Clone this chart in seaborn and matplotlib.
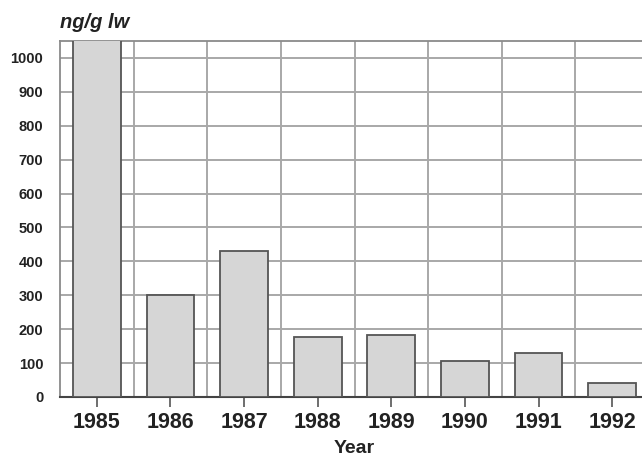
import matplotlib
matplotlib.use("Agg")
import matplotlib.pyplot as plt
from matplotlib.ticker import MultipleLocator, FixedLocator
import seaborn as sns
import pandas as pd

years = ["1985", "1986", "1987", "1988", "1989", "1990", "1991", "1992"]
values = [1060, 300, 430, 176, 182, 106, 129, 41]

df = pd.DataFrame({"Year": years, "value": values})

sns.set_style("white")
plt.rcParams["font.family"] = ["Liberation Sans", "DejaVu Sans"]

fig = plt.figure(figsize=(6.42, 4.59), dpi=100)
ax = fig.add_axes([60 / 642, 1 - 397 / 459, 589 / 642, 356 / 459])

sns.barplot(data=df, x="Year", y="value", color="#d6d6d6", edgecolor="#555555",
            linewidth=1.3, width=0.65, saturation=1, ax=ax, zorder=3)

ax.set_ylim(0, 1050)
ax.set_xlim(-0.5, len(years) - 0.5)
ax.yaxis.set_major_locator(MultipleLocator(100))
ax.xaxis.set_minor_locator(FixedLocator([i + 0.5 for i in range(len(years) - 1)]))

ax.grid(True, which="major", axis="y", color="#a8a8a8", linewidth=1.4, zorder=0)
ax.grid(True, which="minor", axis="x", color="#a8a8a8", linewidth=1.4, zorder=0)
ax.set_axisbelow(True)

for s in ["left", "top", "right"]:
    ax.spines[s].set_color("#8a8a8a")
    ax.spines[s].set_linewidth(1.3)
ax.spines["bottom"].set_color("#444444")
ax.spines["bottom"].set_linewidth(1.5)

ax.tick_params(axis="y", length=0, pad=12, labelsize=10.5, labelcolor="#222222")
ax.tick_params(axis="x", which="major", length=7, width=1.2, color="#555555",
               pad=4, labelsize=15.5, labelcolor="#222222", bottom=True)
ax.tick_params(axis="x", which="minor", length=0)
for lab in ax.get_yticklabels() + ax.get_xticklabels():
    lab.set_fontweight("bold")

ax.set_xlabel("Year", fontsize=14, fontweight="bold", color="#222222", labelpad=5)
ax.set_ylabel("")
ax.text(0.0, 1.025, "ng/g lw", transform=ax.transAxes, ha="left", va="bottom",
        fontsize=14.5, fontweight="bold", fontstyle="italic", color="#222222")

fig.savefig("out.png", dpi=100)
